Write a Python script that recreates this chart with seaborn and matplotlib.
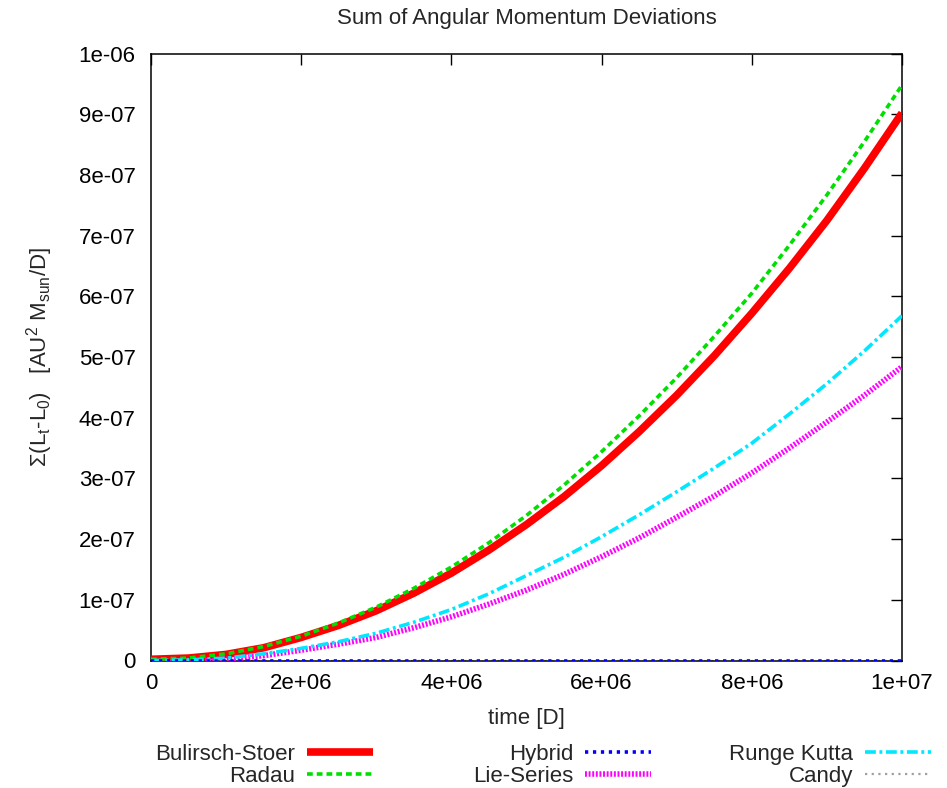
import numpy as np
import pandas as pd
import matplotlib
matplotlib.use("Agg")
import matplotlib.pyplot as plt
import seaborn as sns

# ---- data (time in days, deviation in units of 1e-7 AU^2 Msun / D) ----
time = [0.0, 0.5e6, 1.0e6, 1.5e6, 2.0e6, 2.5e6, 3.0e6, 3.5e6, 4.0e6, 4.5e6, 5.0e6,
        5.5e6, 6.0e6, 6.5e6, 7.0e6, 7.5e6, 8.0e6, 8.5e6, 9.0e6, 9.5e6, 10.0e6]

bulirsch_stoer = [0.02, 0.04, 0.10, 0.21, 0.38, 0.58, 0.82, 1.11, 1.44, 1.82, 2.24,
                  2.70, 3.21, 3.77, 4.37, 5.02, 5.72, 6.46, 7.25, 8.11, 9.02]
radau = [0.02, 0.04, 0.11, 0.23, 0.40, 0.62, 0.88, 1.19, 1.54, 1.94, 2.39,
         2.89, 3.44, 4.03, 4.66, 5.34, 6.05, 6.84, 7.67, 8.55, 9.48]
hybrid = [0.0] * 21
lie_series = [-0.03, -0.02, 0.02, 0.08, 0.17, 0.27, 0.38, 0.54, 0.72, 0.93, 1.16,
              1.42, 1.71, 2.02, 2.36, 2.71, 3.09, 3.50, 3.93, 4.37, 4.84]
runge_kutta = [0.00, 0.01, 0.04, 0.11, 0.20, 0.31, 0.45, 0.63, 0.84, 1.10, 1.40,
               1.70, 2.04, 2.40, 2.78, 3.17, 3.58, 4.06, 4.56, 5.10, 5.68]
candy = [0.0] * 21
scale = 1e-7

series_names = ["Bulirsch-Stoer", "Radau", "Hybrid", "Lie-Series", "Runge Kutta", "Candy"]
series_values = [bulirsch_stoer, radau, hybrid, lie_series, runge_kutta, candy]

xticks = [0, 2e6, 4e6, 6e6, 8e6, 1e7]
xtick_labels = ["0", "2e+06", "4e+06", "6e+06", "8e+06", "1e+07"]
yticks = [0, 1e-7, 2e-7, 3e-7, 4e-7, 5e-7, 6e-7, 7e-7, 8e-7, 9e-7, 1e-6]
ytick_labels = ["0", "1e-07", "2e-07", "3e-07", "4e-07", "5e-07", "6e-07",
                "7e-07", "8e-07", "9e-07", "1e-06"]

# ---- styles ----
styles = {
    "Bulirsch-Stoer": dict(color="#ff0000", lw=5.5, ls="-", z=3),
    "Radau": dict(color="#00e000", lw=2.6, ls=(0, (1.6, 1.1)), z=4),
    "Hybrid": dict(color="#0000ff", lw=2.6, ls=(0, (0.9, 1.3)), z=5),
    "Lie-Series": dict(color="#ff00ff", lw=4.0, ls=(0, (0.35, 0.3)), z=3),
    "Runge Kutta": dict(color="#00e8ff", lw=2.6, ls=(0, (3.0, 1.0, 0.8, 1.0)), z=4),
    "Candy": dict(color="#a0a0a0", lw=1.6, ls=(0, (1.0, 2.0)), z=2),
}

sns.set_theme(style="white")
plt.rcParams["font.family"] = ["Liberation Sans", "DejaVu Sans"]
plt.rcParams["mathtext.default"] = "regular"

fig = plt.figure(figsize=(9.47, 7.88), dpi=100)
ax = fig.add_axes([151 / 947, 1 - 660.5 / 788, (902 - 151) / 947, (660.5 - 53.5) / 788])

for name, vals in zip(series_names, series_values):
    df = pd.DataFrame({"time": time, "dev": np.array(vals) * scale})
    st = styles[name]
    sns.lineplot(data=df, x="time", y="dev", ax=ax, color=st["color"],
                 linewidth=st["lw"], linestyle=st["ls"], label=name,
                 estimator=None, sort=False, zorder=st["z"],
                 dash_capstyle="butt", solid_capstyle="butt", legend=False)

ax.set_xlim(0, 1e7)
ax.set_ylim(0, 1e-6)
ax.set_xticks(xticks)
ax.set_xticklabels(xtick_labels)
ax.set_yticks(yticks)
ax.set_yticklabels(ytick_labels)
ax.tick_params(direction="in", length=8, width=1.0, top=True, right=True,
               labelsize=16, colors="black", pad=9)
ax.tick_params(axis="y", pad=11)
for sp in ax.spines.values():
    sp.set_visible(True)
    sp.set_color("black")
    sp.set_linewidth(1.1)

ax.set_title("Sum of Angular Momentum Deviations", fontsize=16, pad=21)
ax.set_xlabel("time [D]", fontsize=16, labelpad=10)
ax.set_ylabel("Σ(L$_t$-L$_0$)   [AU$^2$ M$_{sun}$/D]", fontsize=16, labelpad=17)

handles = ax.get_lines()
lab_map = {h.get_label(): h for h in handles}
columns = [(["Bulirsch-Stoer", "Radau"], 373),
           (["Hybrid", "Lie-Series"], 651),
           (["Runge Kutta", "Candy"], 931)]
legs = []
for names, xr in columns:
    leg = fig.legend([lab_map[n] for n in names], names, ncol=1, markerfirst=False,
                     frameon=False, loc="upper right",
                     bbox_to_anchor=(xr / 947, 1 - 744 / 788),
                     bbox_transform=fig.transFigure, fontsize=16, borderpad=0,
                     borderaxespad=0, handlelength=2.95, handletextpad=0.55,
                     labelspacing=0.05)
    legs.append(leg)

fig.savefig("out.png", dpi=100)
